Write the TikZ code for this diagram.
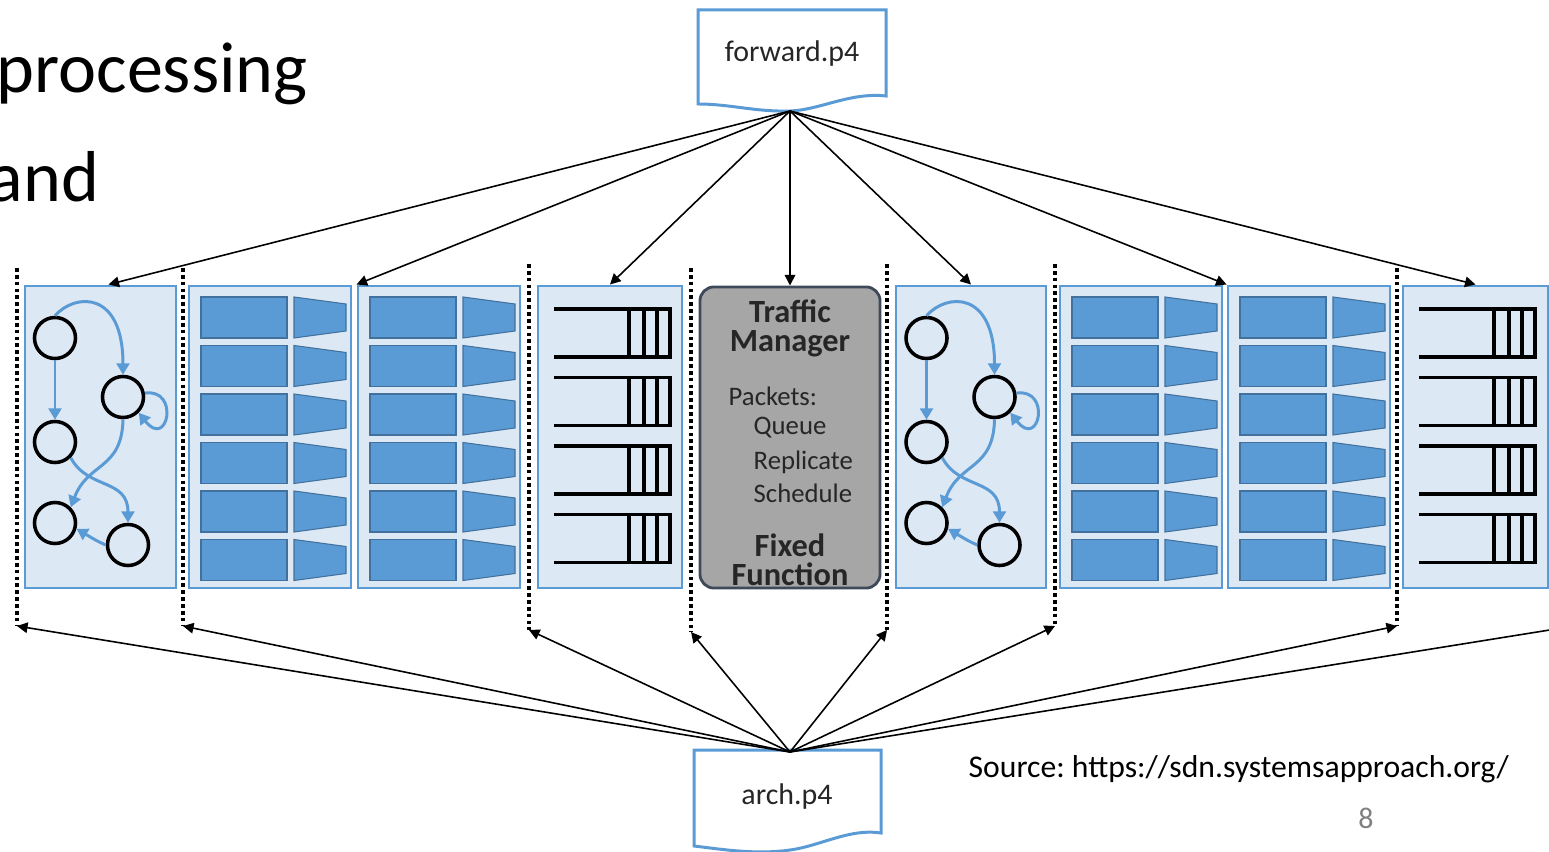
\documentclass[tikz,border=0pt]{standalone}
\usepackage{fontspec}
\setmainfont{Carlito}
\usetikzlibrary{arrows.meta}
\definecolor{pblue}{HTML}{5B9BD5}
\definecolor{pfill}{HTML}{DDE8F5}
\definecolor{tedge}{HTML}{41719C}
\definecolor{tmfill}{HTML}{A6A6A6}
\definecolor{tmline}{HTML}{3E4A59}
\definecolor{txt}{HTML}{262626}
\frenchspacing
\begin{document}
\begin{tikzpicture}[x=0.01cm,y=-0.01cm,
        panel/.style={draw=pblue,line width=0.8pt,fill=pfill,inner sep=0pt,minimum height=3.02cm},
        tm/.style={draw=tmline,line width=0.8pt,fill=tmfill,rounded corners=4pt,inner sep=0pt,minimum width=1.8cm,minimum height=3.01cm},
        st/.style={circle,draw,line width=1pt,minimum size=0.41cm,inner sep=0pt},
        gedge/.style={pblue,line width=0.85pt,-{Triangle[length=3.2pt,width=3.6pt]}},
        tbl/.style={fill=pblue,draw=tedge,line width=0.3pt},
        que/.style={line width=0.9pt},
        stagesep/.style={line width=1.05pt,dash pattern=on 1.05pt off 0.9pt},
        wire/.style={line width=0.45pt,-{Triangle[length=3pt,width=3pt]}},
        doc/.style={draw=pblue,line width=0.85pt,fill=white},
        tmhead/.style={font=\fontsize{9.2}{8.3}\selectfont\bfseries,text=txt,align=center},
        tmitem/.style={font=\fontsize{7.6}{9}\selectfont,text=txt,anchor=west,inner sep=0pt}]
        \useasboundingbox (0,0) rectangle (1549,852);
        \clip (0,0) rectangle (1549,852);
        \fill[white] (0,0) rectangle (1549,852);

        \node[anchor=base west,font=\fontsize{20.5}{24}\selectfont,inner sep=0pt] (ttl1) at (-4,93) {processing};
        \node[anchor=base west,font=\fontsize{20.5}{24}\selectfont,inner sep=0pt] (ttl2) at (-12,202) {and};

        \coordinate (s1t) at (17,268);   \coordinate (s1b) at (17,626);
        \coordinate (s2t) at (183,268);  \coordinate (s2b) at (183,626);
        \coordinate (s3t) at (529,264);  \coordinate (s3b) at (529,630);
        \coordinate (s4t) at (691,268);  \coordinate (s4b) at (691,632);
        \coordinate (s5t) at (887,264);  \coordinate (s5b) at (887,630);
        \coordinate (s6t) at (1055,264); \coordinate (s6b) at (1055,626);
        \coordinate (s7t) at (1397,268); \coordinate (s7b) at (1397,626);
        \coordinate (rim) at (1562,628);
        \draw[stagesep] (s1t) -- (s1b);
        \draw[stagesep] (s2t) -- (s2b);
        \draw[stagesep] (s3t) -- (s3b);
        \draw[stagesep] (s4t) -- (s4b);
        \draw[stagesep] (s5t) -- (s5b);
        \draw[stagesep] (s6t) -- (s6b);
        \draw[stagesep] (s7t) -- (s7b);

        \node[panel,minimum width=1.51cm] (pa) at (100.5,437) {};
        \node[panel,minimum width=1.62cm] (pb) at (270,437) {};
        \node[panel,minimum width=1.62cm] (pc) at (439,437) {};
        \node[panel,minimum width=1.44cm] (pd) at (610,437) {};
        \node[tm] (tm) at (790,437.5) {};
        \node[panel,minimum width=1.50cm] (pe) at (971,437) {};
        \node[panel,minimum width=1.62cm] (pf) at (1141,437) {};
        \node[panel,minimum width=1.62cm] (pg) at (1309,437) {};
        \node[panel,minimum width=1.45cm] (ph) at (1475.5,437) {};

        \foreach \px in {189,358,1060,1228}
            \foreach \i in {0,...,5} {
                \draw[tbl] ({\px+12},{297+48.5*\i}) rectangle ++(86,41);
                \draw[tbl] ({\px+105},{297+48.5*\i}) -- ++(52,7) -- ++(0,27) -- ++(-52,7) -- cycle;
            }

        \foreach \px in {538,1403}
            \foreach \i in {0,...,3} {
                \draw[que] ({\px+16},{309+68.5*\i}) -- ++(116,0) -- ++(0,48) -- ++(-116,0);
                \draw[que] ({\px+91},{309+68.5*\i}) -- ++(0,48);
                \draw[que] ({\px+106},{309+68.5*\i}) -- ++(0,48);
                \draw[que] ({\px+119},{309+68.5*\i}) -- ++(0,48);
            }

        \foreach \p/\s in {a/0,e/8.71} {
            \begin{scope}[xshift=\s cm]
                \node[st] (\p1) at (55,338) {};
                \node[st] (\p2) at (123,397) {};
                \node[st] (\p3) at (55,442) {};
                \node[st] (\p4) at (55,523) {};
                \node[st] (\p5) at (128,545) {};
                \draw[gedge] (\p1.south) -- (\p3.north);
                \draw[gedge] (\p1.north) .. controls (75,293) and (123,290) .. (\p2.north);
                \draw[gedge] (\p2.10) .. controls (180,388) and (168,450) .. (\p2.-45);
                \draw[gedge] (\p2.south) .. controls (122,470) and (88,462) .. (\p4.north east);
                \draw[gedge] (\p3.-45) .. controls (88,490) and (128,478) .. (\p5.north);
                \draw[gedge] (\p5.west) .. controls (97,541) .. (\p4.-15);
            \end{scope}
        }

        \node[tmhead] (tmname) at (790,328) {Traffic\\Manager};
        \node[tmitem] (tmpk) at (728,396) {Packets:};
        \node[tmitem] (tmq) at (753,428) {Queue};
        \node[tmitem] (tmr) at (753,462) {Replicate};
        \node[tmitem] (tms) at (753,493) {Schedule};
        \node[tmhead] (tmfix) at (790,560) {Fixed\\Function};

        \draw[doc] (698,10) -- (886,10) -- (886,96) .. controls (850,92) and (820,110) .. (790,111) .. controls (755,112) and (730,104) .. (698,104) -- cycle;
        \coordinate (fwd) at (790,111);
        \node[font=\fontsize{8.5}{10}\selectfont,text=txt] (fwdname) at (792,54) {forward.p4};

        \draw[doc] (694,750) -- (881,750) -- (881,833) .. controls (850,828) and (820,846) .. (790,850) .. controls (755,855) and (720,849) .. (694,846) -- cycle;
        \coordinate (arc) at (790,752);
        \node[font=\fontsize{8.5}{10}\selectfont,text=txt] (archname) at (787,797) {arch.p4};

        \draw[wire] (fwd) -- (pa.87);
        \draw[wire] (fwd) -- (pc.north west);
        \draw[wire] (fwd) -- (pd.north);
        \draw[wire] (fwd) -- (tm.north);
        \draw[wire] (fwd) -- (pe.north);
        \draw[wire] (fwd) -- (pg.north west);
        \draw[wire] (fwd) -- (ph.north);

        \draw[wire] (arc) -- (s1b);
        \draw[wire] (arc) -- (s2b);
        \draw[wire] (arc) -- (s3b);
        \draw[wire] (arc) -- (s4b);
        \draw[wire] (arc) -- (s5b);
        \draw[wire] (arc) -- (s6b);
        \draw[wire] (arc) -- (s7b);
        \draw[wire] (arc) -- (rim);

        \node[anchor=base west,font=\fontsize{9}{11}\selectfont,inner sep=0pt] (src) at (968,777) {Source: https://sdn.systemsapproach.org/};
        \node[font=\fontsize{8.5}{10}\selectfont,text=gray] (pgno) at (1366,818) {8};
    \end{tikzpicture}
\end{document}
